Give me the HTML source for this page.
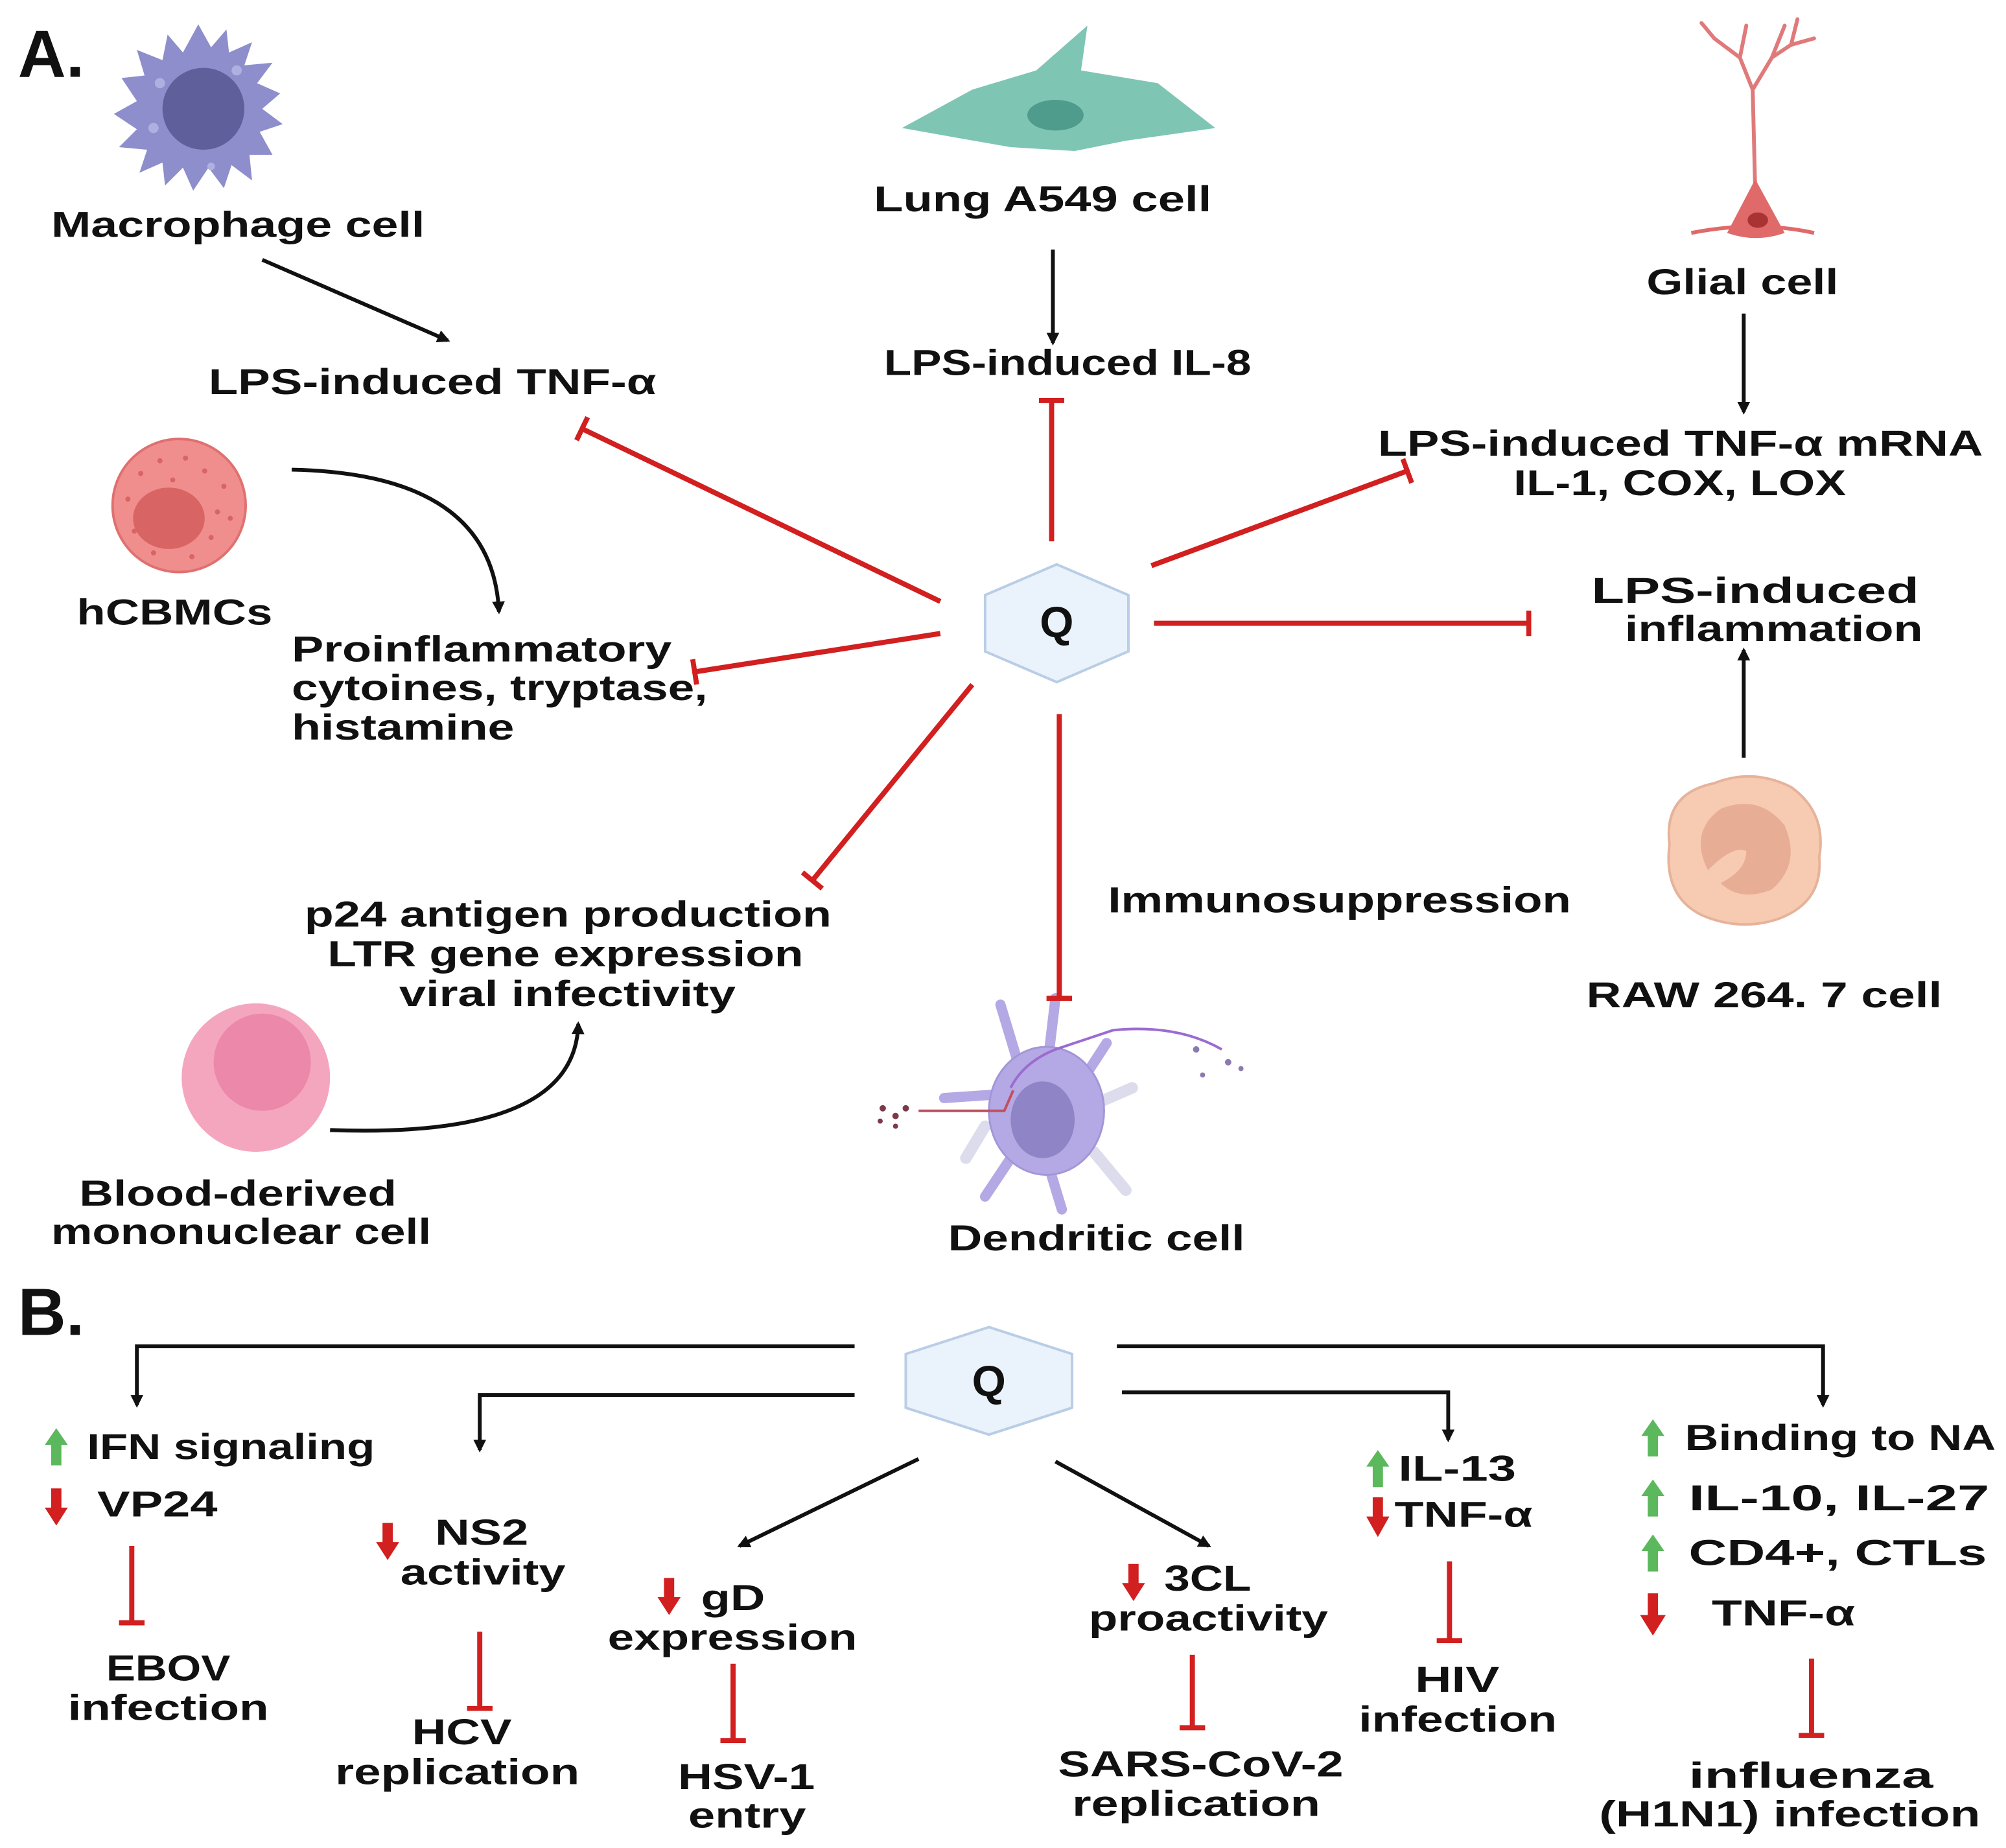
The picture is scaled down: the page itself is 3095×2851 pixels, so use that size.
<!DOCTYPE html>
<html><head><meta charset="utf-8"><style>
html,body{margin:0;padding:0;background:#fff;}
svg{display:block;}
text{font-family:"Liberation Sans",sans-serif;font-weight:bold;font-size:28px;fill:#111;}
</style></head><body>
<svg width="3095" height="2851" viewBox="0 0 1568 1444" preserveAspectRatio="none" xmlns="http://www.w3.org/2000/svg">
<defs>
<marker id="ah" markerWidth="10" markerHeight="10" refX="8" refY="5" orient="auto" markerUnits="userSpaceOnUse"><path d="M0,0 L10,5 L0,10 z" fill="#111"/></marker>
<marker id="tb" markerWidth="4" markerHeight="20" refX="2" refY="10" orient="auto" markerUnits="userSpaceOnUse"><rect x="0" y="0" width="4" height="20" fill="#d21f1f"/></marker>
<marker id="tbs" markerWidth="4" markerHeight="20" refX="2" refY="10" orient="auto" markerUnits="userSpaceOnUse"><rect x="0" y="0" width="4" height="20" fill="#d21f1f"/></marker>
</defs>

<text x="14" y="60" style="font-size:52px">A.</text>

<g transform="translate(155,85)">
<path d="M0,-66 L10,-48 L22,-62 L24,-44 L42,-52 L36,-34 L58,-36 L46,-20 L64,-12 L50,0 L66,12 L48,18 L58,36 L40,36 L42,56 L26,44 L20,62 L8,46 L-4,64 L-12,46 L-26,60 L-28,42 L-46,50 L-40,32 L-62,30 L-48,16 L-66,4 L-48,-6 L-60,-24 L-42,-26 L-48,-46 L-28,-38 L-24,-58 L-12,-44 Z" fill="#8d8ecb"/>
<circle cx="4" cy="0" r="32" fill="#5f5f9c"/>
<circle cx="-30" cy="-20" r="4" fill="#aeb0e0"/><circle cx="30" cy="-30" r="4" fill="#aeb0e0"/><circle cx="-35" cy="15" r="4" fill="#aeb0e0"/><circle cx="10" cy="45" r="3" fill="#aeb0e0"/>
</g>
<text x="40" y="185" textLength="292" lengthAdjust="spacingAndGlyphs">Macrophage cell</text>

<path d="M705,100 L760,70 L810,55 L850,20 L845,55 L905,65 L950,100 L880,110 L840,118 L790,115 L750,108 Z" fill="#7ec5b4"/>
<ellipse cx="825" cy="90" rx="22" ry="12" fill="#4f9c8c"/>
<text x="683" y="165" textLength="264" lengthAdjust="spacingAndGlyphs">Lung A549 cell</text>

<g stroke="#e07a7a" stroke-width="3" fill="none" stroke-linecap="round">
<path d="M1372,150 L1370,70 L1360,45 L1340,30"/>
<path d="M1360,45 L1365,20"/>
<path d="M1370,70 L1385,45 L1400,35 L1405,15"/>
<path d="M1385,45 L1395,20"/>
<path d="M1340,30 L1330,18"/>
<path d="M1400,35 L1418,30"/>
</g>
<path d="M1350,182 L1372,140 L1395,182 Q1372,190 1350,182 Z" fill="#e06a6a"/>
<path d="M1322,182 Q1372,172 1418,182" stroke="#e06a6a" stroke-width="3" fill="none"/>
<ellipse cx="1374" cy="172" rx="8" ry="6" fill="#a93333"/>
<text x="1287" y="230" textLength="150" lengthAdjust="spacingAndGlyphs">Glial cell</text>

<text x="163" y="308" textLength="350" lengthAdjust="spacingAndGlyphs">LPS-induced TNF-α</text>
<text x="691" y="293" textLength="287" lengthAdjust="spacingAndGlyphs">LPS-induced IL-8</text>
<text x="1077" y="356" textLength="473" lengthAdjust="spacingAndGlyphs">LPS-induced TNF-α mRNA</text>
<text x="1183" y="387" textLength="260" lengthAdjust="spacingAndGlyphs">IL-1, COX, LOX</text>
<text x="1244" y="471" textLength="256" lengthAdjust="spacingAndGlyphs">LPS-induced</text>
<text x="1270" y="501" textLength="233" lengthAdjust="spacingAndGlyphs">inflammation</text>

<circle cx="140" cy="395" r="52" fill="#f08e8e" stroke="#e07070" stroke-width="2"/>
<g fill="#d86464">
<circle cx="110" cy="370" r="2"/><circle cx="125" cy="360" r="2"/><circle cx="145" cy="358" r="2"/><circle cx="160" cy="368" r="2"/><circle cx="175" cy="380" r="2"/><circle cx="100" cy="390" r="2"/><circle cx="170" cy="400" r="2"/><circle cx="165" cy="420" r="2"/><circle cx="105" cy="415" r="2"/><circle cx="150" cy="435" r="2"/><circle cx="120" cy="432" r="2"/><circle cx="135" cy="375" r="2"/><circle cx="180" cy="405" r="2"/>
</g>
<ellipse cx="132" cy="405" rx="28" ry="24" fill="#d96464"/>
<text x="60" y="488" textLength="153" lengthAdjust="spacingAndGlyphs">hCBMCs</text>
<text x="228" y="517" textLength="297" lengthAdjust="spacingAndGlyphs">Proinflammatory</text>
<text x="228" y="547" textLength="325" lengthAdjust="spacingAndGlyphs">cytoines, tryptase,</text>
<text x="228" y="578" textLength="174" lengthAdjust="spacingAndGlyphs">histamine</text>

<text x="866" y="713" textLength="362" lengthAdjust="spacingAndGlyphs">Immunosuppression</text>
<text x="238" y="724" textLength="412" lengthAdjust="spacingAndGlyphs">p24 antigen production</text>
<text x="256" y="755" textLength="372" lengthAdjust="spacingAndGlyphs">LTR gene expression</text>
<text x="312" y="786" textLength="263" lengthAdjust="spacingAndGlyphs">viral infectivity</text>

<path d="M1305,660 Q1300,620 1340,612 Q1370,600 1400,615 Q1428,635 1422,670 Q1425,705 1390,718 Q1360,728 1330,715 Q1300,700 1305,660 Z" fill="#f7cbb2" stroke="#e6b39a" stroke-width="2"/>
<path d="M1335,680 Q1320,650 1345,632 Q1375,620 1395,645 Q1408,675 1385,695 Q1360,705 1345,690 Q1365,680 1365,665 Q1355,660 1335,680 Z" fill="#e8ad95"/>
<text x="1240" y="787" textLength="278" lengthAdjust="spacingAndGlyphs">RAW 264. 7 cell</text>

<circle cx="200" cy="842" r="58" fill="#f5a6bf"/>
<circle cx="205" cy="830" r="38" fill="#ec88aa"/>
<text x="62" y="942" textLength="248" lengthAdjust="spacingAndGlyphs">Blood-derived</text>
<text x="40" y="972" textLength="297" lengthAdjust="spacingAndGlyphs">mononuclear cell</text>

<g stroke-linecap="round" fill="none">
<path d="M770,880 L755,905" stroke="#dcdcec" stroke-width="9"/>
<path d="M855,900 L880,930" stroke="#dcdcec" stroke-width="9"/>
<path d="M862,860 L885,850" stroke="#dcdcec" stroke-width="9"/>
<path d="M795,828 L782,785" stroke="#b4a9e4" stroke-width="8"/>
<path d="M820,822 L825,780" stroke="#b4a9e4" stroke-width="8"/>
<path d="M782,855 L738,858" stroke="#b4a9e4" stroke-width="8"/>
<path d="M850,838 L865,815" stroke="#b4a9e4" stroke-width="8"/>
<path d="M790,905 L770,935" stroke="#b4a9e4" stroke-width="8"/>
<path d="M820,912 L830,945" stroke="#b4a9e4" stroke-width="8"/>
</g>
<ellipse cx="818" cy="868" rx="45" ry="50" fill="#b4a9e4" stroke="#a296d8" stroke-width="1.5"/>
<ellipse cx="815" cy="875" rx="25" ry="30" fill="#8e84c6"/>
<path d="M790,850 Q800,830 825,820 L870,805 Q920,800 955,820" stroke="#9b6cd0" stroke-width="2" fill="none"/>
<path d="M718,868 L785,868 L792,852" stroke="#c05060" stroke-width="2" fill="none"/>
<g fill="#7a3a4a"><circle cx="690" cy="866" r="2.5"/><circle cx="700" cy="872" r="2.5"/><circle cx="708" cy="866" r="2.5"/><circle cx="688" cy="876" r="2"/><circle cx="700" cy="880" r="2"/></g>
<g fill="#8a7ab0"><circle cx="935" cy="820" r="2.5"/><circle cx="960" cy="830" r="2.5"/><circle cx="970" cy="835" r="2"/><circle cx="940" cy="840" r="2"/></g>
<text x="741" y="977" textLength="232" lengthAdjust="spacingAndGlyphs">Dendritic cell</text>

<polygon points="826,441 882,465 882,509 826,533 770,509 770,465" fill="#eaf2fb" stroke="#b9cde6" stroke-width="2"/>
<text x="826" y="498" text-anchor="middle" style="font-size:34px">Q</text>

<g stroke="#111" stroke-width="3" fill="none" marker-end="url(#ah)">
<line x1="205" y1="203" x2="350" y2="266"/>
<line x1="823" y1="195" x2="823" y2="268"/>
<line x1="1363" y1="245" x2="1363" y2="322"/>
<path d="M228,367 Q385,370 390,478"/>
<path d="M258,883 Q450,890 452,800"/>
<line x1="1363" y1="592" x2="1363" y2="508"/>
</g>

<g stroke="#d21f1f" stroke-width="4" fill="none" marker-end="url(#tb)">
<line x1="735" y1="470" x2="455" y2="335"/>
<line x1="822" y1="423" x2="822" y2="313"/>
<line x1="900" y1="442" x2="1100" y2="368"/>
<line x1="902" y1="487" x2="1195" y2="487"/>
<line x1="735" y1="495" x2="543" y2="525"/>
<line x1="760" y1="535" x2="635" y2="688"/>
<line x1="828" y1="558" x2="828" y2="780"/>
</g>

<text x="14" y="1043" style="font-size:52px">B.</text>
<polygon points="773,1037 838,1058 838,1100 773,1121 708,1100 708,1058" fill="#eaf2fb" stroke="#b9cde6" stroke-width="2"/>
<text x="773" y="1091" text-anchor="middle" style="font-size:34px">Q</text>

<g stroke="#111" stroke-width="3" fill="none" marker-end="url(#ah)">
<path d="M668,1052 L107,1052 L107,1098"/>
<path d="M873,1052 L1425,1052 L1425,1098"/>
<path d="M668,1090 L375,1090 L375,1133"/>
<path d="M877,1088 L1132,1088 L1132,1125"/>
<line x1="718" y1="1140" x2="578" y2="1208"/>
<line x1="825" y1="1142" x2="945" y2="1208"/>
</g>

<g stroke="#d21f1f" stroke-width="4" fill="none" marker-end="url(#tbs)">
<line x1="103" y1="1208" x2="103" y2="1268"/>
<line x1="375" y1="1275" x2="375" y2="1335"/>
<line x1="573" y1="1300" x2="573" y2="1360"/>
<line x1="932" y1="1293" x2="932" y2="1350"/>
<line x1="1133" y1="1220" x2="1133" y2="1282"/>
<line x1="1416" y1="1296" x2="1416" y2="1356"/>
</g>

<g fill="#5cb85c">
<path d="M44,1116 L53,1129 L48,1129 L48,1145 L40,1145 L40,1129 L35,1129 Z"/>
<path d="M1077,1133 L1086,1146 L1081,1146 L1081,1162 L1073,1162 L1073,1146 L1068,1146 Z"/>
<path d="M1292,1109 L1301,1122 L1296,1122 L1296,1138 L1288,1138 L1288,1122 L1283,1122 Z"/>
<path d="M1292,1156 L1301,1169 L1296,1169 L1296,1185 L1288,1185 L1288,1169 L1283,1169 Z"/>
<path d="M1292,1199 L1301,1212 L1296,1212 L1296,1228 L1288,1228 L1288,1212 L1283,1212 Z"/>
</g>
<g fill="#d21f1f">
<path d="M40,1163 L48,1163 L48,1178 L53,1178 L44,1192 L35,1178 L40,1178 Z"/>
<path d="M299,1190 L307,1190 L307,1205 L312,1205 L303,1219 L294,1205 L299,1205 Z"/>
<path d="M519,1233 L527,1233 L527,1248 L532,1248 L523,1262 L514,1248 L519,1248 Z"/>
<path d="M882,1222 L890,1222 L890,1237 L895,1237 L886,1251 L877,1237 L882,1237 Z"/>
<path d="M1073,1170 L1081,1170 L1081,1185 L1086,1185 L1077,1201 L1068,1185 L1073,1185 Z"/>
<path d="M1288,1245 L1296,1245 L1296,1262 L1302,1262 L1292,1278 L1282,1262 L1288,1262 Z"/>
</g>

<text x="68" y="1140" textLength="225" lengthAdjust="spacingAndGlyphs">IFN signaling</text>
<text x="76" y="1185" textLength="94" lengthAdjust="spacingAndGlyphs">VP24</text>
<text x="83" y="1313" textLength="97" lengthAdjust="spacingAndGlyphs">EBOV</text>
<text x="53" y="1344" textLength="157" lengthAdjust="spacingAndGlyphs">infection</text>

<text x="340" y="1207" textLength="73" lengthAdjust="spacingAndGlyphs">NS2</text>
<text x="313" y="1238" textLength="129" lengthAdjust="spacingAndGlyphs">activity</text>
<text x="322" y="1363" textLength="78" lengthAdjust="spacingAndGlyphs">HCV</text>
<text x="262" y="1394" textLength="191" lengthAdjust="spacingAndGlyphs">replication</text>

<text x="548" y="1258" textLength="50" lengthAdjust="spacingAndGlyphs">gD</text>
<text x="475" y="1289" textLength="195" lengthAdjust="spacingAndGlyphs">expression</text>
<text x="530" y="1398" textLength="107" lengthAdjust="spacingAndGlyphs">HSV-1</text>
<text x="538" y="1428" textLength="92" lengthAdjust="spacingAndGlyphs">entry</text>

<text x="910" y="1243" textLength="68" lengthAdjust="spacingAndGlyphs">3CL</text>
<text x="851" y="1274" textLength="187" lengthAdjust="spacingAndGlyphs">proactivity</text>
<text x="827" y="1388" textLength="223" lengthAdjust="spacingAndGlyphs">SARS-CoV-2</text>
<text x="838" y="1419" textLength="194" lengthAdjust="spacingAndGlyphs">replication</text>

<text x="1093" y="1157" textLength="92" lengthAdjust="spacingAndGlyphs">IL-13</text>
<text x="1090" y="1193" textLength="108" lengthAdjust="spacingAndGlyphs">TNF-α</text>
<text x="1106" y="1322" textLength="66" lengthAdjust="spacingAndGlyphs">HIV</text>
<text x="1062" y="1353" textLength="155" lengthAdjust="spacingAndGlyphs">infection</text>

<text x="1317" y="1133" textLength="243" lengthAdjust="spacingAndGlyphs">Binding to NA</text>
<text x="1320" y="1180" textLength="235" lengthAdjust="spacingAndGlyphs">IL-10, IL-27</text>
<text x="1320" y="1223" textLength="233" lengthAdjust="spacingAndGlyphs">CD4+, CTLs</text>
<text x="1338" y="1270" textLength="112" lengthAdjust="spacingAndGlyphs">TNF-α</text>
<text x="1320" y="1397" textLength="191" lengthAdjust="spacingAndGlyphs">influenza</text>
<text x="1250" y="1427" textLength="298" lengthAdjust="spacingAndGlyphs">(H1N1) infection</text>
</svg>
</body></html>
